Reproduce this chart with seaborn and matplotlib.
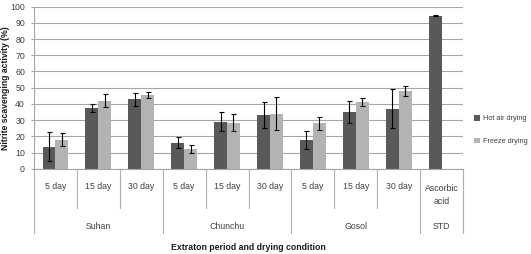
import numpy as np
import pandas as pd
import matplotlib
matplotlib.use("Agg")
import matplotlib.pyplot as plt
import seaborn as sns
from matplotlib.transforms import blended_transform_factory

# ---- data ----
categories = ["Suhan|5", "Suhan|15", "Suhan|30",
              "Chunchu|5", "Chunchu|15", "Chunchu|30",
              "Gosol|5", "Gosol|15", "Gosol|30",
              "STD|AA"]
day_labels = ["5 day", "15 day", "30 day",
              "5 day", "15 day", "30 day",
              "5 day", "15 day", "30 day",
              "Ascorbic\nacid"]
groups = ["Suhan", "Chunchu", "Gosol", "STD"]
group_sizes = [3, 3, 3, 1]
series = ["Hot air drying", "Freeze drying"]
hot = [13.5, 37.5, 43.0, 16.0, 29.0, 33.0, 17.5, 35.0, 37.0, 94.5]
hot_err = [9.0, 2.5, 4.0, 3.5, 6.0, 8.0, 5.5, 7.0, 12.0, 0.3]
freeze = [18.0, 42.0, 45.5, 12.0, 28.5, 34.0, 28.0, 41.0, 48.0, np.nan]
freeze_err = [3.8, 4.2, 1.7, 2.5, 5.0, 10.0, 4.0, 2.5, 3.0, np.nan]
yticks = [0, 10, 20, 30, 40, 50, 60, 70, 80, 90, 100]

rows = []
for c, h, f in zip(categories, hot, freeze):
    rows.append((c, series[0], h))
    if not np.isnan(f):
        rows.append((c, series[1], f))
df = pd.DataFrame(rows, columns=["cat", "drying", "value"])
errs = {series[0]: dict(zip(categories, hot_err)),
        series[1]: dict(zip(categories, freeze_err))}

plt.rcParams["font.family"] = ["Liberation Sans", "DejaVu Sans"]

W, H = 531, 254
fig = plt.figure(figsize=(W / 100, H / 100), dpi=100)
ax = fig.add_axes([34 / W, 1 - 168.7 / H, (463 - 34) / W, (168.7 - 6.7) / H])

sns.barplot(data=df, x="cat", y="value", hue="drying", order=categories,
            hue_order=series, palette=["#595959", "#b3b3b3"], width=0.6,
            errorbar=None, saturation=1, ax=ax, legend=True)

for cont, lev in zip(ax.containers, series):
    for bar in cont:
        x = bar.get_x() + bar.get_width() / 2
        idx = int(round(x))
        e = errs[lev][categories[idx]]
        ax.errorbar(x, bar.get_height(), yerr=e, color="black", lw=0.8,
                    capsize=1.8, capthick=0.8, zorder=5)

ax.set_ylim(0, 100)
ax.set_xlim(-0.5, len(categories) - 0.5)
ax.set_yticks(yticks)
ax.set_yticklabels([str(v) for v in yticks], fontsize=6.3, color="#404040")
ax.set_xticks([])
ax.set_xlabel("")
ax.set_ylabel("")
ax.yaxis.grid(True, color="#a6a6a6", lw=0.8)
ax.set_axisbelow(True)
for s in ["top", "right"]:
    ax.spines[s].set_visible(False)
ax.spines["left"].set_color("#a6a6a6")
ax.spines["bottom"].set_color("#a6a6a6")
ax.spines["left"].set_linewidth(0.8)
ax.spines["bottom"].set_linewidth(0.8)
ax.tick_params(axis="y", length=2.5, color="#a6a6a6", width=0.8, pad=4)

trans = blended_transform_factory(ax.transData, ax.transAxes)
lc = "#b0b0b0"
# category labels
for i, lab in enumerate(day_labels):
    ypos = -0.107 if "\n" not in lab else -0.16
    ax.text(i, ypos, lab, transform=trans, ha="center", va="center",
            fontsize=6.3, color="#404040", linespacing=1.6)
# dividers
start = 0
bounds_group = [-0.5]
for g, n in zip(groups, group_sizes):
    ax.text(start + (n - 1) / 2, -0.354, g, transform=trans, ha="center",
            va="center", fontsize=6.3, color="#404040")
    for k in range(1, n):
        xb = start + k - 0.5
        ax.plot([xb, xb], [0, -0.243], transform=trans, color=lc, lw=0.8,
                clip_on=False)
    start += n
    bounds_group.append(start - 0.5)
for xb in bounds_group:
    ax.plot([xb, xb], [0, -0.395], transform=trans, color=lc, lw=0.8,
            clip_on=False)

fig.text(248.5 / W, 1 - 247 / H, "Extraton period and drying condition",
         ha="center", va="center", fontsize=6.3, fontweight="bold",
         color="#1a1a1a")
fig.text(6 / W, 1 - 88 / H, "Nitrite scavenging activity (%)", rotation=90,
         ha="center", va="center", fontsize=6.2, fontweight="bold",
         color="#1a1a1a")

ax.legend(loc="center left", bbox_to_anchor=(473 / W, 1 - 130 / H),
          bbox_transform=fig.transFigure, frameon=False, fontsize=5.3,
          handlelength=0.8, handleheight=0.8, handletextpad=0.3,
          labelspacing=2.1, labelcolor="#404040", borderaxespad=0,
          borderpad=0.2)

fig.savefig("out.png", dpi=100)
